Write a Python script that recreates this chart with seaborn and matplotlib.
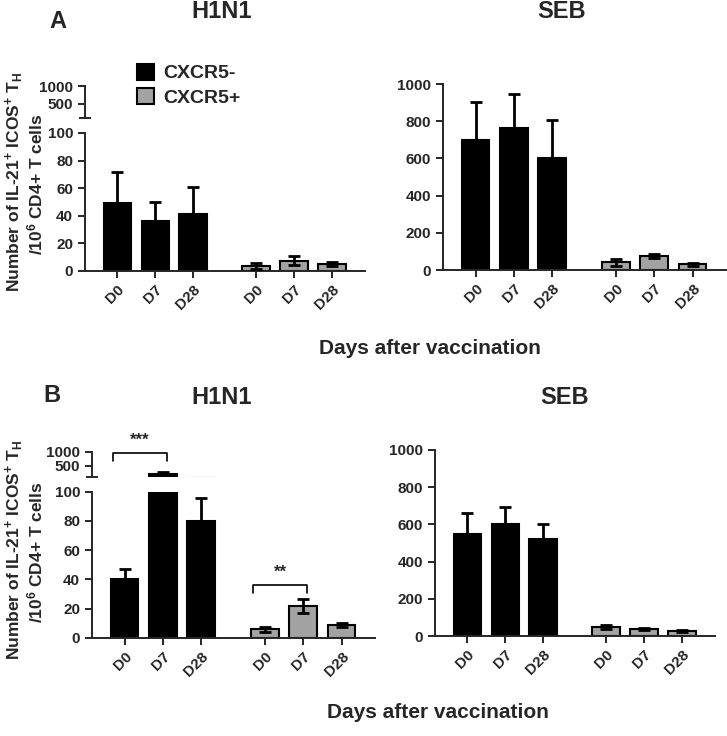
import pandas as pd
import numpy as np
import seaborn as sns
import matplotlib.pyplot as plt
from matplotlib.ticker import FixedLocator

# ---- data (mean, error) ----
days = ["D0", "D7", "D28"]
groups = ["CXCR5-", "CXCR5+"]
positions = [0, 1, 2, 3.66, 4.66, 5.66]

a_h1n1_neg = [49, 36, 41]
a_h1n1_neg_err = [23, 14, 20]
a_h1n1_pos = [3.5, 7.5, 5.0]
a_h1n1_pos_err = [2.0, 3.5, 1.5]

a_seb_neg = [699, 765, 604]
a_seb_neg_err = [206, 180, 202]
a_seb_pos = [41, 75, 31]
a_seb_pos_err = [18, 11, 8]

b_h1n1_neg = [40, 220, 80]
b_h1n1_neg_err = [6.8, 50, 16]
b_h1n1_pos = [5.7, 21.9, 8.7]
b_h1n1_pos_err = [1.5, 4.7, 1.7]

b_seb_neg = [547, 604, 520]
b_seb_neg_err = [113, 88, 82]
b_seb_pos = [47, 38, 26]
b_seb_pos_err = [11, 6, 6]

colors = {"CXCR5-": "black", "CXCR5+": "#a3a3a3"}

sns.set_style("ticks")
plt.rcParams['font.family'] = ['Liberation Sans', 'DejaVu Sans']
plt.rcParams['font.weight'] = 'bold'
plt.rcParams['mathtext.fontset'] = 'custom'
plt.rcParams['mathtext.rm'] = 'Liberation Sans:bold'
plt.rcParams['mathtext.bf'] = 'Liberation Sans:bold'
plt.rcParams['mathtext.it'] = 'Liberation Sans:bold:italic'
plt.rcParams['mathtext.default'] = 'rm'

W, H = 727, 736
fig = plt.figure(figsize=(W / 100, H / 100), dpi=100)


def box(l, t, r, b):
    return [l / W, 1 - b / H, (r - l) / W, (b - t) / H]


def make_df(neg, neg_err, pos, pos_err):
    return pd.DataFrame({
        'x': positions,
        'value': neg + pos,
        'err': neg_err + pos_err,
        'group': [groups[0]] * 3 + [groups[1]] * 3,
    })


def draw_bars(ax, df, legend=False, ymin=None):
    sns.barplot(data=df, x='x', y='value', hue='group', hue_order=groups, palette=colors,
                native_scale=True, dodge=False, width=0.72, orient='x', errorbar=None,
                edgecolor='black', linewidth=1.5, legend=legend, ax=ax)
    e = df if ymin is None else df[df['value'] > ymin]   # upper segment: only bars that reach it
    if len(e):
        ax.errorbar(e['x'], e['value'], yerr=e['err'], fmt='none', ecolor='black',
                    elinewidth=2, capsize=4, capthick=2, zorder=3)
    ax.set_xlim(-0.85, 6.53)
    ax.set_xlabel('')
    ax.set_ylabel('')


def style_lower(ax, ylim, yticks):
    ax.set_ylim(*ylim)
    ax.set_yticks(yticks)
    ax.set_xticks(positions)
    ax.set_xticklabels(days * 2, rotation=45, ha='right', rotation_mode='anchor')
    ax.tick_params(axis='both', labelsize=11, width=1.4, length=5)
    for s in ['bottom', 'left']:
        ax.spines[s].set_linewidth(1.4)
    sns.despine(ax=ax)


def style_upper(ax):
    ax.set_ylim(100, 1000)
    ax.set_yticks([500, 1000])
    ax.yaxis.set_minor_locator(FixedLocator([100]))
    ax.tick_params(axis='y', which='minor', direction='inout', length=8, width=1.4)
    ax.set_xticks([])
    ax.tick_params(axis='y', labelsize=11, width=1.4, length=5)
    ax.spines['left'].set_linewidth(1.4)
    sns.despine(ax=ax, bottom=True)


# ---- panel A ----
df = make_df(a_h1n1_neg, a_h1n1_neg_err, a_h1n1_pos, a_h1n1_pos_err)
ax_al = fig.add_axes(box(85, 133, 365, 271))
draw_bars(ax_al, df, legend=True)
style_lower(ax_al, (0, 100), [0, 20, 40, 60, 80, 100])
handles, labels = ax_al.get_legend_handles_labels()
ax_al.get_legend().remove()
ax_au = fig.add_axes(box(85, 86, 365, 118))
draw_bars(ax_au, df, ymin=100)
style_upper(ax_au)

ax_as = fig.add_axes(box(443, 84, 726, 270))
draw_bars(ax_as, make_df(a_seb_neg, a_seb_neg_err, a_seb_pos, a_seb_pos_err))
style_lower(ax_as, (0, 1000), [0, 200, 400, 600, 800, 1000])

fig.legend(handles, labels, loc='upper left', bbox_to_anchor=(137 / W, 1 - 64 / H),
           frameon=False, fontsize=14, borderpad=0, borderaxespad=0,
           handlelength=0.85, handleheight=0.85, handletextpad=0.5, labelspacing=0.3)

# ---- panel B ----
df = make_df(b_h1n1_neg, b_h1n1_neg_err, b_h1n1_pos, b_h1n1_pos_err)
ax_bl = fig.add_axes(box(92, 491.7, 375, 637.7))
draw_bars(ax_bl, df)
style_lower(ax_bl, (0, 100), [0, 20, 40, 60, 80, 100])
ax_bu = fig.add_axes(box(92, 451.7, 375, 477))
draw_bars(ax_bu, df, ymin=100)
style_upper(ax_bu)

ax_bs = fig.add_axes(box(435, 450, 715, 636))
draw_bars(ax_bs, make_df(b_seb_neg, b_seb_neg_err, b_seb_pos, b_seb_pos_err))
style_lower(ax_bs, (0, 1000), [0, 200, 400, 600, 800, 1000])

# significance brackets
ax_bu.plot([-0.3, -0.3, 1.1, 1.1], [670, 955, 955, 670], color='black', lw=1.2, clip_on=False)
ax_bu.text(0.4, 1400, '***', ha='center', va='center', fontsize=12, clip_on=False)
ax_bl.plot([3.36, 3.36, 4.76, 4.76], [30.8, 36, 36, 30.8], color='black', lw=1.2, clip_on=False)
ax_bl.text(4.06, 45, '**', ha='center', va='center', fontsize=12)

# ---- texts ----
fig.text(58 / W, 1 - 22 / H, 'A', fontsize=17, ha='center', va='center')
fig.text(52 / W, 1 - 395 / H, 'B', fontsize=17, ha='center', va='center')
for y in [12, 398]:
    fig.text(222 / W, 1 - y / H, 'H1N1', fontsize=17, ha='center', va='center')
fig.text(562 / W, 1 - 12 / H, 'SEB', fontsize=17, ha='center', va='center')
fig.text(565 / W, 1 - 398 / H, 'SEB', fontsize=17, ha='center', va='center')

line1 = 'Number of IL-21$^{+}$ ICOS$^{+}$ T$_{H}$'
line2 = '/10$^{6}$ CD4+ T cells'
for yc in [182, 550]:
    fig.text(14 / W, 1 - yc / H, line1, rotation=90, fontsize=12.5, ha='center', va='center')
    fig.text(35 / W, 1 - (yc + 2) / H, line2, rotation=90, fontsize=12.5, ha='center', va='center')

fig.text(430 / W, 1 - 348 / H, 'Days after vaccination', fontsize=15, ha='center', va='center')
fig.text(438 / W, 1 - 713 / H, 'Days after vaccination', fontsize=15, ha='center', va='center')

fig.savefig('out.png', dpi=100)
